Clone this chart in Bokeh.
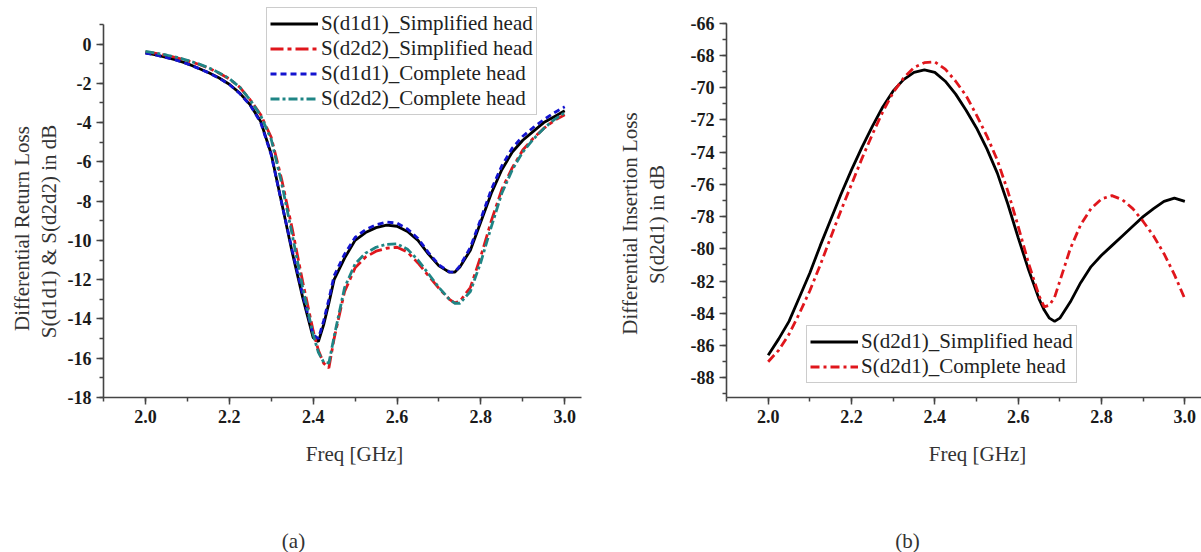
import math
from bokeh.plotting import figure
from bokeh.models import (SingleIntervalTicker, Range1d, Legend, LegendItem,
                          NumeralTickFormatter)
from bokeh.layouts import row, column
from bokeh.embed import file_html
from bokeh.resources import INLINE
from bokeh.core.properties import value

# ---------------- data: (a) differential return loss ----------------
freq_a = [2.0, 2.025, 2.05, 2.075, 2.1, 2.125, 2.15, 2.175, 2.2, 2.225, 2.25, 2.275,
          2.3, 2.325, 2.35, 2.375, 2.4, 2.4125, 2.425, 2.4375, 2.45, 2.475, 2.5,
          2.525, 2.55, 2.575, 2.6, 2.625, 2.65, 2.675, 2.7, 2.725, 2.7375, 2.75,
          2.775, 2.8, 2.825, 2.85, 2.875, 2.9, 2.925, 2.95, 2.975, 3.0]
s_d1d1_simplified = [-0.45, -0.55, -0.68, -0.82, -1.00, -1.22, -1.45, -1.72, -2.05, -2.50,
                     -3.10, -3.95, -5.60, -8.10, -10.60, -12.90, -14.95, -15.15, -14.30,
                     -13.20, -12.00, -10.90, -10.00, -9.60, -9.35, -9.22, -9.28, -9.55,
                     -10.00, -10.70, -11.30, -11.62, -11.62, -11.35, -10.50, -9.05, -7.60,
                     -6.40, -5.50, -4.90, -4.45, -4.00, -3.70, -3.40]
s_d2d2_simplified = [-0.40, -0.48, -0.58, -0.70, -0.85, -1.02, -1.22, -1.48, -1.78, -2.20,
                     -2.85, -3.60, -4.75, -6.90, -9.40, -12.10, -14.60, -15.60, -16.25,
                     -16.50, -15.00, -12.60, -11.40, -10.85, -10.55, -10.40, -10.35, -10.60,
                     -11.15, -11.80, -12.45, -13.00, -13.18, -13.10, -12.40, -10.80, -9.00,
                     -7.40, -6.30, -5.40, -4.80, -4.30, -3.90, -3.60]
s_d1d1_complete = [-0.47, -0.56, -0.69, -0.83, -1.01, -1.23, -1.46, -1.73, -2.06, -2.52,
                   -3.12, -4.00, -5.65, -8.10, -10.50, -12.75, -14.80, -15.00, -14.10,
                   -13.00, -11.80, -10.70, -9.85, -9.45, -9.20, -9.07, -9.12, -9.42,
                   -9.90, -10.62, -11.25, -11.60, -11.62, -11.30, -10.35, -8.90, -7.40,
                   -6.20, -5.30, -4.70, -4.25, -3.85, -3.50, -3.20]
s_d2d2_complete = [-0.38, -0.46, -0.56, -0.68, -0.83, -1.00, -1.20, -1.46, -1.76, -2.20,
                   -2.85, -3.65, -4.85, -7.10, -9.70, -12.40, -14.80, -15.70, -16.20,
                   -16.25, -14.90, -12.40, -11.20, -10.65, -10.35, -10.20, -10.18, -10.45,
                   -11.00, -11.70, -12.40, -13.00, -13.20, -13.20, -12.60, -11.10, -9.30,
                   -7.60, -6.40, -5.50, -4.85, -4.30, -3.85, -3.50]

# ---------------- data: (b) differential insertion loss ----------------
freq_b = [2.0, 2.025, 2.05, 2.075, 2.1, 2.125, 2.15, 2.175, 2.2, 2.225, 2.25, 2.275,
          2.3, 2.325, 2.35, 2.375, 2.4, 2.425, 2.45, 2.475, 2.5, 2.525, 2.55, 2.575,
          2.6, 2.625, 2.65, 2.6625, 2.675, 2.6875, 2.7, 2.725, 2.75, 2.775, 2.8, 2.825,
          2.85, 2.875, 2.9, 2.925, 2.95, 2.975, 3.0]
s_d2d1_simplified = [-86.6, -85.6, -84.5, -83.0, -81.5, -79.8, -78.2, -76.6, -75.1, -73.7,
                     -72.4, -71.2, -70.2, -69.5, -69.05, -68.9, -69.05, -69.6, -70.4,
                     -71.4, -72.5, -73.8, -75.3, -77.2, -79.3, -81.3, -83.1, -83.8, -84.3,
                     -84.5, -84.3, -83.3, -82.1, -81.1, -80.4, -79.8, -79.2, -78.6, -78.0,
                     -77.5, -77.05, -76.85, -77.05]
s_d2d1_complete = [-87.0, -86.3, -85.3, -84.0, -82.6, -81.0, -79.3, -77.6, -76.0, -74.4,
                   -72.9, -71.5, -70.3, -69.4, -68.75, -68.45, -68.4, -68.85, -69.6, -70.5,
                   -71.7, -73.0, -74.5, -76.4, -78.6, -80.9, -82.9, -83.6, -83.5, -83.0,
                   -82.0, -80.0, -78.5, -77.5, -76.9, -76.7, -76.95, -77.5, -78.3, -79.2,
                   -80.3, -81.6, -83.1]

# ---------------- axis titles and captions ----------------
ylabel_a = ["Differential Return Loss", "S(d1d1) & S(d2d2) in dB"]
ylabel_a_x = [21, 48]          # page pixels
ylabel_a_y = [228, 231]
ylabel_b = ["Differential Insertion Loss", "S(d2d1) in dB"]
ylabel_b_x = [629, 656]
ylabel_b_y = [223, 224]
bottom_texts = ["Freq [GHz]", "Freq [GHz]", "(a)", "(b)"]
bottom_text_x = [354, 977, 293, 907]
bottom_text_y = [18, 18, 105, 105]   # pixels from top of the caption strip

x_ticks_step = 0.2
y_ticks_step = 2

SERIF = "Liberation Serif"
TOP, PLOT_H = 6, 435
FRAME_BOTTOM = 397
LAB_A_W, LAB_B_W = 62, 70


def style(p, y_bounds):
    p.outline_line_color = None
    p.xgrid.grid_line_color = None
    p.ygrid.grid_line_color = None
    p.background_fill_color = "white"
    p.border_fill_color = "white"
    p.xaxis.ticker = SingleIntervalTicker(interval=x_ticks_step, num_minor_ticks=2)
    p.yaxis.ticker = SingleIntervalTicker(interval=y_ticks_step, num_minor_ticks=2)
    p.xaxis.formatter = NumeralTickFormatter(format="0.0")
    p.yaxis.formatter = NumeralTickFormatter(format="0")
    p.yaxis.bounds = y_bounds
    for ax in (p.xaxis[0], p.yaxis[0]):
        ax.axis_line_color = "#444444"
        ax.axis_line_width = 1.6
        ax.major_tick_line_color = "#444444"
        ax.minor_tick_line_color = "#444444"
        ax.major_tick_line_width = 1.5
        ax.minor_tick_line_width = 1.5
        ax.major_tick_in = 0
        ax.major_tick_out = 7
        ax.minor_tick_in = 0
        ax.minor_tick_out = 4
        ax.major_label_text_font = SERIF
        ax.major_label_text_font_style = "bold"
        ax.major_label_text_font_size = "18px"
        ax.major_label_text_color = "#1a1a1a"
        ax.major_label_standoff = 5
        ax.axis_label = None


def make_legend(p, items, loc):
    lg = Legend(items=items, location=loc, margin=0, padding=3, spacing=0,
                label_text_font=SERIF, label_text_font_size="21px",
                label_text_color="#222222", label_height=25, glyph_height=25,
                glyph_width=48, label_standoff=3, border_line_color="#999999",
                border_line_width=1, background_fill_color="white",
                background_fill_alpha=1.0)
    p.add_layout(lg, "center")


def text_fig(width, height, xr, yr, borders):
    f = figure(width=width, height=height, output_backend="svg", toolbar_location=None,
               x_range=xr, y_range=yr, x_axis_location=None, y_axis_location=None,
               min_border_left=borders[0], min_border_right=borders[1],
               min_border_top=borders[2], min_border_bottom=borders[3])
    f.outline_line_color = None
    f.xgrid.grid_line_color = None
    f.ygrid.grid_line_color = None
    return f


# ---------------- y-axis titles (rotated) ----------------
la = text_fig(LAB_A_W, PLOT_H, Range1d(0, LAB_A_W), Range1d(FRAME_BOTTOM, TOP),
              (0, 0, TOP, PLOT_H - FRAME_BOTTOM))
la.text(x=ylabel_a_x, y=ylabel_a_y, text=ylabel_a, angle=math.pi / 2,
        text_font=value(SERIF), text_font_size="21px", text_color="#333333",
        text_align="center", text_baseline="middle")
lb = text_fig(LAB_B_W, PLOT_H, Range1d(600, 600 + LAB_B_W), Range1d(FRAME_BOTTOM, TOP),
              (0, 0, TOP, PLOT_H - FRAME_BOTTOM))
lb.text(x=ylabel_b_x, y=ylabel_b_y, text=ylabel_b, angle=math.pi / 2,
        text_font=value(SERIF), text_font_size="21px", text_color="#333333",
        text_align="center", text_baseline="middle")

# ---------------- figure (a) ----------------
pa = figure(width=600 - LAB_A_W, height=PLOT_H, output_backend="svg",
            toolbar_location=None,
            x_range=Range1d(1.9, 3.04), y_range=Range1d(-18, 1.9095),
            min_border_left=103 - LAB_A_W, min_border_right=19, min_border_top=TOP,
            min_border_bottom=PLOT_H - FRAME_BOTTOM)
style(pa, (-18, 1))

ra1 = pa.line(freq_a, s_d1d1_simplified, line_color="#000000", line_width=2.8)
ra2 = pa.line(freq_a, s_d2d2_simplified, line_color="#e0161c", line_width=2.8,
              line_dash="13 4 4 4")
ra3 = pa.line(freq_a, s_d1d1_complete, line_color="#1414d0", line_width=2.8,
              line_dash="6 4")
ra4 = pa.line(freq_a, s_d2d2_complete, line_color="#1f8585", line_width=2.8,
              line_dash="9 3 3 3")
make_legend(pa, [LegendItem(label="S(d1d1)_Simplified head", renderers=[ra1]),
                 LegendItem(label="S(d2d2)_Simplified head", renderers=[ra2]),
                 LegendItem(label="S(d1d1)_Complete head", renderers=[ra3]),
                 LegendItem(label="S(d2d2)_Complete head", renderers=[ra4])],
            (163, 282))

# ---------------- figure (b) ----------------
pb = figure(width=601 - LAB_B_W, height=PLOT_H, output_backend="svg",
            toolbar_location=None,
            x_range=Range1d(1.9, 3.04), y_range=Range1d(-89.222, -64.964),
            min_border_left=126 - LAB_B_W, min_border_right=0, min_border_top=TOP,
            min_border_bottom=PLOT_H - FRAME_BOTTOM)
style(pb, (-89.222, -66))

rb1 = pb.line(freq_b, s_d2d1_simplified, line_color="#000000", line_width=2.8)
rb2 = pb.line(freq_b, s_d2d1_complete, line_color="#e0161c", line_width=2.8,
              line_dash="9 4 3 4")
make_legend(pb, [LegendItem(label="S(d2d1)_Simplified head", renderers=[rb1]),
                 LegendItem(label="S(d2d1)_Complete head", renderers=[rb2])],
            (80, 14))

# ---------------- caption strip ----------------
STRIP_H = 552 - PLOT_H
pc = text_fig(1201, STRIP_H, Range1d(0, 1201), Range1d(STRIP_H, 0), (0, 0, 0, 0))
pc.text(x=bottom_text_x, y=bottom_text_y, text=bottom_texts,
        text_font=value(SERIF), text_font_size="21px", text_color="#333333",
        text_align="center", text_baseline="middle")

layout = column(row(la, pa, lb, pb, spacing=0), pc, spacing=0)
open("out.html", "w").write(file_html(layout, INLINE))
